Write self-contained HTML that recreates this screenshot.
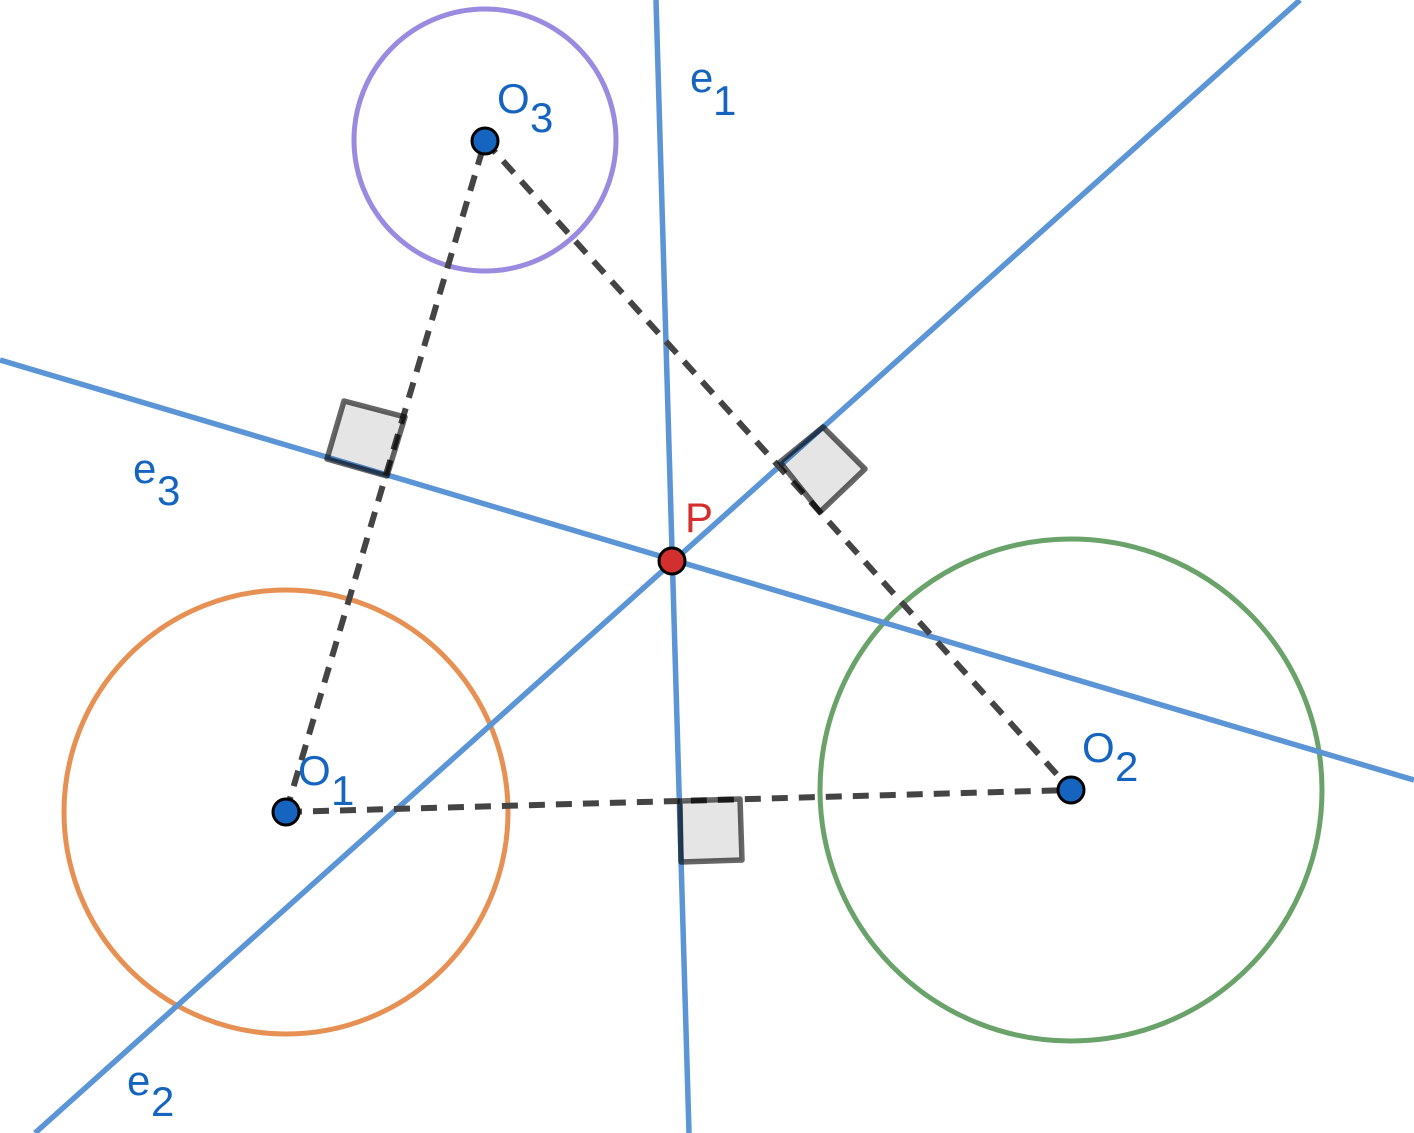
<!DOCTYPE html>
<html><head><meta charset="utf-8"><style>
html,body{margin:0;padding:0;background:#fff;}
svg{display:block;}
text{font-family:"Liberation Sans",sans-serif;}
</style></head><body>
<svg width="1414" height="1133" viewBox="0 0 1414 1133" xmlns="http://www.w3.org/2000/svg">
<rect width="1414" height="1133" fill="#fff"/>
<circle cx="286" cy="812" r="222" fill="none" stroke="#e69153" stroke-width="5"/>
<circle cx="1071" cy="790" r="251" fill="none" stroke="#6aa36a" stroke-width="5"/>
<circle cx="485" cy="140" r="131" fill="none" stroke="#9a8ae0" stroke-width="5"/>
<g stroke="#5b95d6" stroke-width="5.5" fill="none">
<line x1="656" y1="0" x2="689" y2="1133"/>
<line x1="1300" y1="0" x2="35" y2="1133"/>
<line x1="0" y1="360" x2="1414" y2="780"/>
</g>
<g stroke="#444" stroke-width="6" fill="none" stroke-dasharray="16 11">
<line x1="286" y1="812" x2="485" y2="141"/>
<line x1="485" y1="141" x2="1071" y2="790"/>
<line x1="286" y1="812" x2="1071" y2="790"/>
</g>
<g fill="rgba(0,0,0,0.1)" stroke="rgba(0,0,0,0.6)" stroke-width="5.5" stroke-linejoin="round">
<polygon points="327,459 344,401 405,417 387,476"/>
<polygon points="780,462 823,427 865,469 820,512"/>
<polygon points="680,801 740,799 742,860 681,862"/>
</g>
<g stroke="#000" stroke-width="3">
<circle cx="286" cy="812" r="13" fill="#1565c0"/>
<circle cx="1071" cy="790" r="13" fill="#1565c0"/>
<circle cx="485" cy="141" r="13" fill="#1565c0"/>
<circle cx="672" cy="561" r="13" fill="#d32f2f"/>
</g>
<g fill="#1565c0" font-size="42">
<text x="497" y="113">O</text><text x="530" y="132">3</text>
<text x="690" y="92">e</text><text x="713" y="115">1</text>
<text x="133" y="483">e</text><text x="157" y="505">3</text>
<text x="298" y="785">O</text><text x="331" y="805">1</text>
<text x="1082" y="762">O</text><text x="1115" y="781">2</text>
<text x="127" y="1095">e</text><text x="151" y="1116">2</text>
</g>
<text x="685" y="532" fill="#d32f2f" font-size="42">P</text>
</svg>
</body></html>
